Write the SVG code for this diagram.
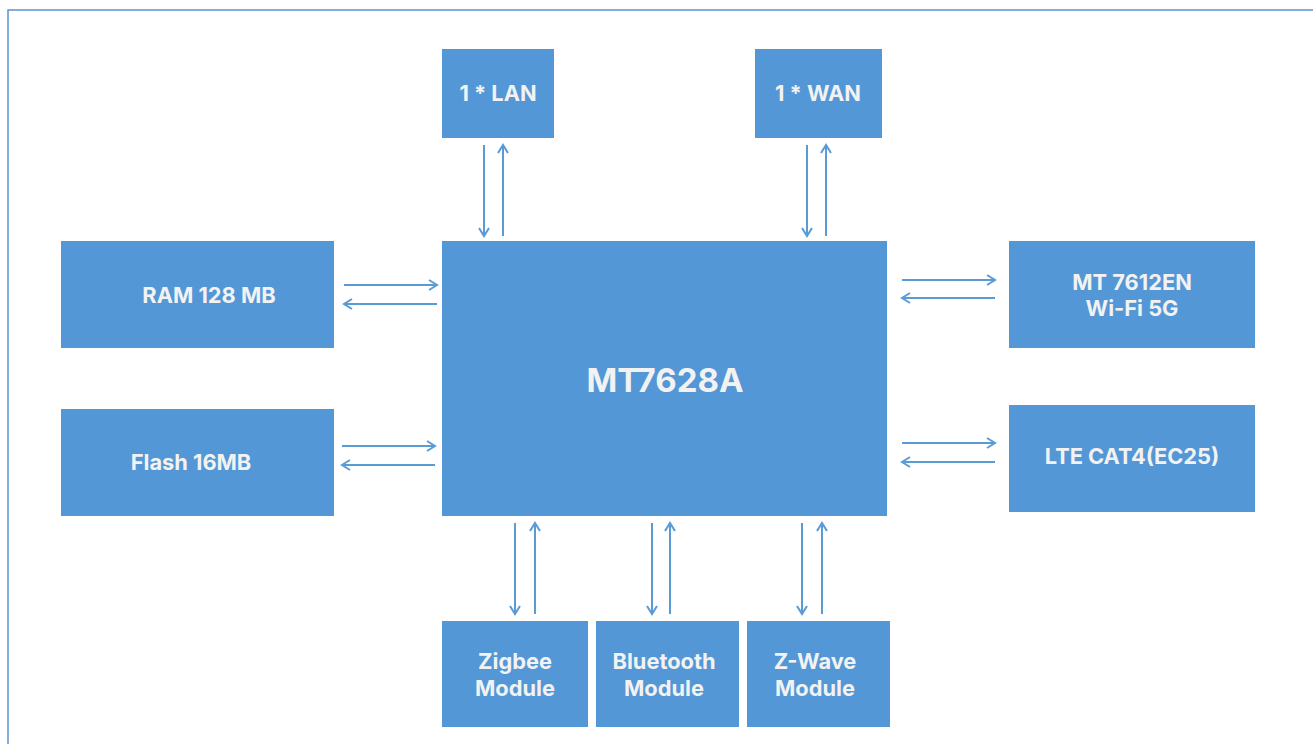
<svg xmlns="http://www.w3.org/2000/svg" width="1313" height="744" viewBox="0 0 1313 744">
<style>
.box{fill:#5497d6}
.t{font-family:Inter,"Liberation Sans",sans-serif;font-weight:700;font-size:21.8px;fill:#f2f2f2;text-anchor:middle}
.big{font-size:33px}
.c line{stroke:#5b9bd5;stroke-width:2;marker-end:url(#ah)}
</style>
<defs>
<marker id="ah" viewBox="0 0 12 12" refX="10" refY="6" markerWidth="12" markerHeight="12" markerUnits="userSpaceOnUse" orient="auto">
<path d="M2,1 L10,6 L2,11" fill="none" stroke="#5b9bd5" stroke-width="2"/>
</marker>
</defs>
<rect x="0" y="0" width="1313" height="744" fill="#fff"/>
<rect x="8" y="10" width="1320" height="760" fill="none" stroke="#5b92d0" stroke-width="1.5"/>
<g id="lan"><rect class="box" x="442" y="49" width="112" height="89"/><text class="t" x="498" y="101">1 * LAN</text></g>
<g id="wan"><rect class="box" x="755" y="49" width="127" height="89"/><text class="t" x="818" y="101">1 * WAN</text></g>
<g id="ram"><rect class="box" x="61" y="241" width="273" height="107"/><text class="t" x="209" y="303">RAM 128 MB</text></g>
<g id="flash"><rect class="box" x="61" y="409" width="273" height="107"/><text class="t" x="191" y="470">Flash 16MB</text></g>
<g id="cpu"><rect class="box" x="442" y="241" width="445" height="275"/><text class="t big" x="665" y="392">MT7628A</text></g>
<g id="wifi"><rect class="box" x="1009" y="241" width="246" height="107"/><text class="t" x="1132" y="290">MT 7612EN</text><text class="t" x="1132" y="316">Wi-Fi 5G</text></g>
<g id="lte"><rect class="box" x="1009" y="405" width="246" height="107"/><text class="t" x="1132" y="464">LTE CAT4(EC25)</text></g>
<g id="zigbee"><rect class="box" x="442" y="621" width="146" height="106"/><text class="t" x="515" y="669">Zigbee</text><text class="t" x="515" y="696">Module</text></g>
<g id="bt"><rect class="box" x="596" y="621" width="143" height="106"/><text class="t" x="664" y="669">Bluetooth</text><text class="t" x="664" y="696">Module</text></g>
<g id="zwave"><rect class="box" x="747" y="621" width="143" height="106"/><text class="t" x="815" y="669">Z-Wave</text><text class="t" x="815" y="696">Module</text></g>
<g id="connectors" class="c">
<line x1="484" y1="145" x2="484" y2="236"/><line x1="503" y1="236" x2="503" y2="145"/>
<line x1="807" y1="145" x2="807" y2="236"/><line x1="826" y1="236" x2="826" y2="145"/>
<line x1="344" y1="285" x2="437" y2="285"/><line x1="437" y1="304" x2="344" y2="304"/>
<line x1="342" y1="446" x2="435" y2="446"/><line x1="435" y1="465" x2="342" y2="465"/>
<line x1="902" y1="280" x2="995" y2="280"/><line x1="995" y1="298" x2="902" y2="298"/>
<line x1="902" y1="443" x2="995" y2="443"/><line x1="995" y1="462" x2="902" y2="462"/>
<line x1="515" y1="523" x2="515" y2="614"/><line x1="535" y1="614" x2="535" y2="523"/>
<line x1="652" y1="523" x2="652" y2="614"/><line x1="670" y1="614" x2="670" y2="523"/>
<line x1="802" y1="523" x2="802" y2="614"/><line x1="822" y1="614" x2="822" y2="523"/>
</g>
</svg>
